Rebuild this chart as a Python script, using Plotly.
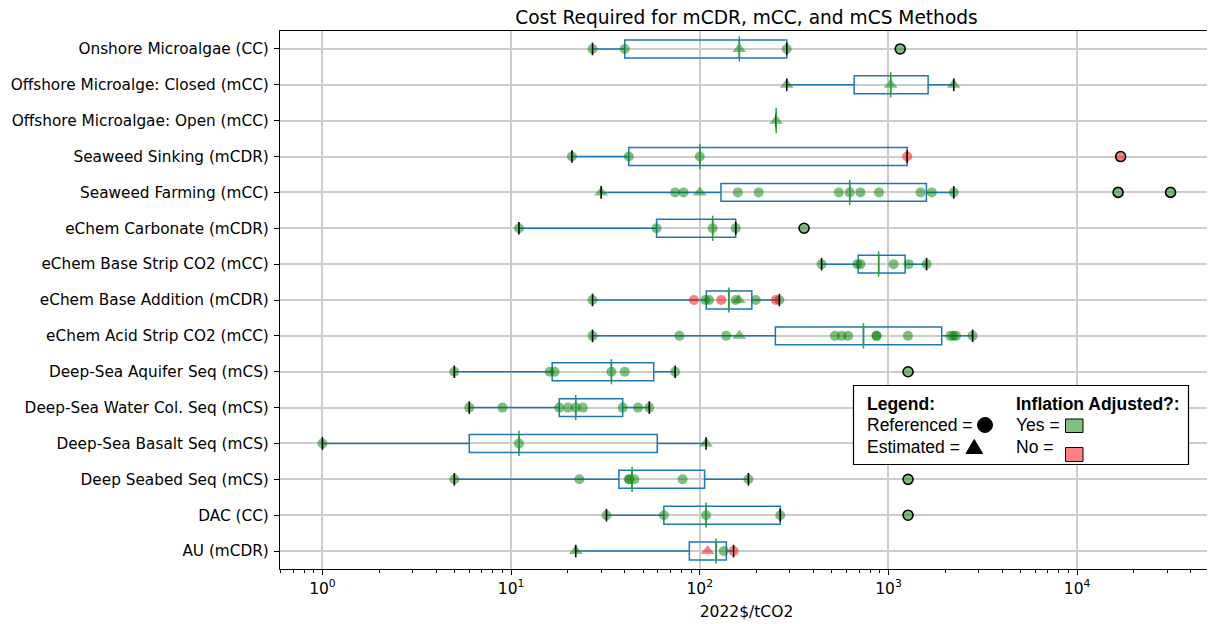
import numpy as np
import plotly.graph_objects as go

# ---- data (top row first) ----
CATEGORIES = [
    "Onshore Microalgae (CC)",
    "Offshore Microalge: Closed (mCC)",
    "Offshore Microalgae: Open (mCC)",
    "Seaweed Sinking (mCDR)",
    "Seaweed Farming (mCC)",
    "eChem Carbonate (mCDR)",
    "eChem Base Strip CO2 (mCC)",
    "eChem Base Addition (mCDR)",
    "eChem Acid Strip CO2 (mCC)",
    "Deep-Sea Aquifer Seq (mCS)",
    "Deep-Sea Water Col. Seq (mCS)",
    "Deep-Sea Basalt Seq (mCS)",
    "Deep Seabed Seq (mCS)",
    "DAC (CC)",
    "AU (mCDR)",
]

# cost values, kind (R = referenced, E = estimated), inflation adjusted (Y / N)
ONSHORE_MICRO = [27, 40, 162, 289, 1154]
ONSHORE_MICRO_KIND = "RRERR"
ONSHORE_MICRO_ADJ = "YYYYY"

OFFSHORE_CLOSED = [289, 1027, 2218]
OFFSHORE_CLOSED_KIND = "EEE"
OFFSHORE_CLOSED_ADJ = "YYY"

OFFSHORE_OPEN = [254]
OFFSHORE_OPEN_KIND = "E"
OFFSHORE_OPEN_ADJ = "Y"

SEAWEED_SINK = [21, 42, 100, 1257, 17000]
SEAWEED_SINK_KIND = "RRRRR"
SEAWEED_SINK_ADJ = "YYYNN"

SEAWEED_FARM = [30, 74, 82, 100, 159, 205, 546, 623, 710, 891, 1479, 1698, 2218, 16480, 31270]
SEAWEED_FARM_KIND = "ERRERRRRRRRRRRR"
SEAWEED_FARM_ADJ = "YYYYYYYYYYYYYYY"

ECHEM_CARB = [11, 59, 117, 155, 357]
ECHEM_CARB_KIND = "RRRRR"
ECHEM_CARB_ADJ = "YYYYY"

ECHEM_BASE_STRIP = [442, 684, 710, 1064, 1279, 1592]
ECHEM_BASE_STRIP_KIND = "RRRRRR"
ECHEM_BASE_STRIP_ADJ = "YYYYYY"

ECHEM_BASE_ADD = [27, 93, 107, 112, 130, 155, 161, 198, 253, 264]
ECHEM_BASE_ADD_KIND = "RRRRRRERRR"
ECHEM_BASE_ADD_ADJ = "YNYYNYYYNY"

ECHEM_ACID = [27, 78, 138, 162, 520, 564, 611, 863, 866, 1268, 2130, 2210, 2280, 2792]
ECHEM_ACID_KIND = "RRRERRRRRRRRRR"
ECHEM_ACID_ADJ = "YYYYYYYYYYYYYY"

AQUIFER = [5, 16, 17, 34, 40, 74, 1270]
AQUIFER_KIND = "RRRRRRR"
AQUIFER_ADJ = "YYYYYYY"

WATER_COL = [6, 9, 18, 20, 22, 24, 39, 47, 54]
WATER_COL_KIND = "RRRRRRRRR"
WATER_COL_ADJ = "YYYYYYYYY"

BASALT = [1, 11, 108]
BASALT_KIND = "RRE"
BASALT_ADJ = "YYY"

SEABED = [5, 23, 42, 42.5, 45, 81, 181, 1270]
SEABED_KIND = "RRRRRRRR"
SEABED_ADJ = "YYYYYYYY"

DAC = [32, 64.5, 108, 267, 1270]
DAC_KIND = "RRRRR"
DAC_ADJ = "YYYYY"

AU = [22, 110, 134, 151]
AU_KIND = "EERR"
AU_ADJ = "YNYN"

ROWS = [
    (ONSHORE_MICRO, ONSHORE_MICRO_KIND, ONSHORE_MICRO_ADJ),
    (OFFSHORE_CLOSED, OFFSHORE_CLOSED_KIND, OFFSHORE_CLOSED_ADJ),
    (OFFSHORE_OPEN, OFFSHORE_OPEN_KIND, OFFSHORE_OPEN_ADJ),
    (SEAWEED_SINK, SEAWEED_SINK_KIND, SEAWEED_SINK_ADJ),
    (SEAWEED_FARM, SEAWEED_FARM_KIND, SEAWEED_FARM_ADJ),
    (ECHEM_CARB, ECHEM_CARB_KIND, ECHEM_CARB_ADJ),
    (ECHEM_BASE_STRIP, ECHEM_BASE_STRIP_KIND, ECHEM_BASE_STRIP_ADJ),
    (ECHEM_BASE_ADD, ECHEM_BASE_ADD_KIND, ECHEM_BASE_ADD_ADJ),
    (ECHEM_ACID, ECHEM_ACID_KIND, ECHEM_ACID_ADJ),
    (AQUIFER, AQUIFER_KIND, AQUIFER_ADJ),
    (WATER_COL, WATER_COL_KIND, WATER_COL_ADJ),
    (BASALT, BASALT_KIND, BASALT_ADJ),
    (SEABED, SEABED_KIND, SEABED_ADJ),
    (DAC, DAC_KIND, DAC_ADJ),
    (AU, AU_KIND, AU_ADJ),
]

MAJOR_TICKS = [1, 10, 100, 1000, 10000]
MAJOR_LABELS = ["10<sup>0</sup>", "10<sup>1</sup>", "10<sup>2</sup>", "10<sup>3</sup>", "10<sup>4</sup>"]

BOX_BLUE = "#1f77b4"
MEDIAN_GREEN = "#2ca02c"
GREEN = "rgba(0,128,0,0.5)"
RED = "rgba(255,0,0,0.5)"
GRID = "#cccccc"
FONT = "DejaVu Sans"

# page has an 8px body margin, so the figure is drawn 8px smaller and offset
W, H = 1207, 616
OFF = 8

# ---- boxplot statistics (matplotlib style: 1.5 IQR whiskers) ----
q1s, meds, q3s, lows, highs = [], [], [], [], []
flier_x, flier_y = [], []
for cat, (vals, _, _) in zip(CATEGORIES, ROWS):
    v = np.array(vals, dtype=float)
    q1, med, q3 = np.percentile(v, [25, 50, 75])
    iqr = q3 - q1
    inside = v[(v >= q1 - 1.5 * iqr) & (v <= q3 + 1.5 * iqr)]
    q1s.append(q1); meds.append(med); q3s.append(q3)
    lows.append(inside.min()); highs.append(inside.max())
    out = v[(v < q1 - 1.5 * iqr) | (v > q3 + 1.5 * iqr)]
    flier_x += list(out); flier_y += [cat] * len(out)

fig = go.Figure()

# data points, split by kind / inflation adjustment
for kind, symbol, size in (("R", "circle", 10), ("E", "triangle-up", 12)):
    for adj, color in (("Y", GREEN), ("N", RED)):
        xs, ys = [], []
        for cat, (vals, kinds, adjs) in zip(CATEGORIES, ROWS):
            for val, k, a in zip(vals, kinds, adjs):
                if k == kind and a == adj:
                    xs.append(val); ys.append(cat)
        fig.add_trace(go.Scatter(
            x=xs, y=ys, mode="markers",
            marker=dict(symbol=symbol, size=size, color=color, line_width=0),
            showlegend=False, hoverinfo="x+y",
        ))

fig.add_trace(go.Box(
    y=CATEGORIES, q1=q1s, median=meds, q3=q3s,
    lowerfence=lows, upperfence=highs,
    orientation="h", width=0.5, whiskerwidth=0,
    line=dict(color=BOX_BLUE, width=1.5),
    fillcolor="rgba(0,0,0,0)", showlegend=False, hoverinfo="skip",
))

# whisker caps
fig.add_trace(go.Scatter(
    x=lows + highs, y=CATEGORIES + CATEGORIES, mode="markers",
    marker=dict(symbol="line-ns", size=9, line=dict(color="black", width=1.6)),
    showlegend=False, hoverinfo="skip",
))
# median lines
fig.add_trace(go.Scatter(
    x=meds, y=CATEGORIES, mode="markers",
    marker=dict(symbol="line-ns", size=18, line=dict(color=MEDIAN_GREEN, width=1.5)),
    showlegend=False, hoverinfo="skip",
))
# fliers
fig.add_trace(go.Scatter(
    x=flier_x, y=flier_y, mode="markers",
    marker=dict(symbol="circle", size=10, color="rgba(0,0,0,0)",
                line=dict(color="black", width=1.6)),
    showlegend=False, hoverinfo="skip",
))

# ---- legend box, placed in page pixels of the plot area ----
L, R, T, B = 280, 1213, 31, 569


def px(X):
    return (X - L) / (R - L)


def py(Y):
    return (B - Y) / (B - T)


shapes = [
    dict(type="rect", xref="paper", yref="paper", x0=px(853.5), x1=px(1188.5),
         y0=py(464.5), y1=py(385.5), line=dict(color="black", width=1.2),
         fillcolor="white", layer="above"),
    dict(type="circle", xref="paper", yref="paper", x0=px(977.5), x1=px(992.5),
         y0=py(432.5), y1=py(417.5), line=dict(color="black", width=1),
         fillcolor="black", layer="above"),
    dict(type="path", xref="paper", yref="paper",
         path=f"M {px(966)} {py(453.5)} L {px(982.5)} {py(453.5)} L {px(974.2)} {py(439.5)} Z",
         line=dict(color="black", width=1), fillcolor="black", layer="above"),
    dict(type="rect", xref="paper", yref="paper", x0=px(1065.5), x1=px(1083),
         y0=py(432.5), y1=py(419), line=dict(color="black", width=1),
         fillcolor="#80c080", layer="above"),
    dict(type="rect", xref="paper", yref="paper", x0=px(1065.5), x1=px(1083),
         y0=py(461.5), y1=py(447.5), line=dict(color="black", width=1),
         fillcolor="#ff8080", layer="above"),
]

legend_font = dict(family="Arial, Liberation Sans", size=17.5, color="black")
annotations = []
for text, X, Y in (
    ("<b>Legend:</b>", 865, 403.5),
    ("Referenced =", 865, 425),
    ("Estimated =", 865, 446.5),
    ("<b>Inflation Adjusted?:</b>", 1014, 403.5),
    ("Yes =", 1014, 425),
    ("No =", 1014, 446.5),
):
    annotations.append(dict(text=text, xref="paper", yref="paper", x=px(X), y=py(Y),
                            xanchor="left", yanchor="middle", showarrow=False,
                            font=legend_font))

fig.update_layout(
    width=W, height=H, autosize=False,
    margin=dict(l=L - OFF, r=W - (R - OFF), t=T - OFF, b=H - (B - OFF)),
    plot_bgcolor="white", paper_bgcolor="white",
    font=dict(family=FONT, size=15.5, color="black"),
    title=dict(text="Cost Required for mCDR, mCC, and mCS Methods",
               x=0.5, xref="paper", y=1 - (17 - OFF) / H, yref="container",
               yanchor="middle", font=dict(family=FONT, size=18.6, color="black")),
    shapes=shapes, annotations=annotations,
)

fig.update_xaxes(
    type="log", range=[-0.225, 4.72], automargin=False,
    tickvals=MAJOR_TICKS, ticktext=MAJOR_LABELS,
    ticks="outside", ticklen=5, tickwidth=1.2, tickcolor="black",
    showgrid=True, gridcolor=GRID, gridwidth=1.5,
    showline=True, linecolor="black", linewidth=1.2, mirror=True, zeroline=False,
    minor=dict(ticks="outside", ticklen=3, tickwidth=1, tickcolor="black",
               tickvals=[k * 10 ** e for e in range(-1, 5) for k in range(2, 10)],
               showgrid=False),
    title=dict(text="2022$/tCO2", standoff=9, font=dict(family=FONT, size=15.5)),
)
fig.update_yaxes(
    type="category", categoryorder="array", categoryarray=CATEGORIES[::-1],
    range=[-0.5, 14.5], automargin=False, ticklabelstandoff=2,
    tickfont=dict(family=FONT, size=15.3),
    ticks="outside", ticklen=5, tickwidth=1.2, tickcolor="black",
    showgrid=True, gridcolor=GRID, gridwidth=1.5,
    showline=True, linecolor="black", linewidth=1.2, mirror=True, zeroline=False,
)

fig.write_html("out.html")
